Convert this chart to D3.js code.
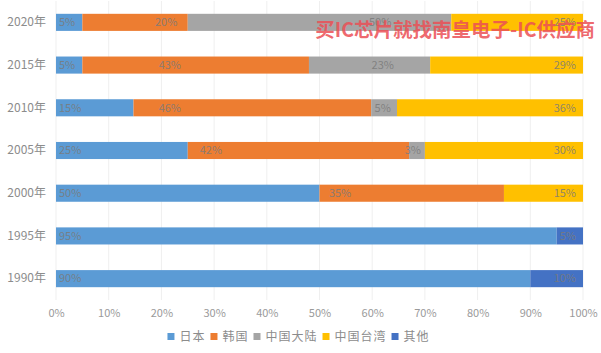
<!DOCTYPE html>
<html>
<head>
<meta charset="utf-8">
<script src="https://cdn.jsdelivr.net/npm/d3@7"></script>
<style>
  body { margin: 0; background: #fff; }
  text { font-family: "Noto Sans CJK SC", "Noto Sans", sans-serif; }
</style>
</head>
<body>
<div id="chart"></div>
<script>
// Data (percent share per year)
const years = ["2020年", "2015年", "2010年", "2005年", "2000年", "1995年", "1990年"];
const seriesNames = ["日本", "韩国", "中国大陆", "中国台湾", "其他"];
const japan  = [5, 5, 15, 25, 50, 95, 90];
const korea  = [20, 43, 46, 42, 35, 0, 0];
const china  = [50, 23, 5, 3, 0, 0, 0];
const taiwan = [25, 29, 36, 30, 15, 0, 0];
const other  = [0, 0, 0, 0, 0, 5, 10];
const xTicks = [0, 0.1, 0.2, 0.3, 0.4, 0.5, 0.6, 0.7, 0.8, 0.9, 1];
// where the Korea / mainland labels sit, in axis share (they are not centred in the original)
const koreaLabelAt = [0.209, 0.216, 0.216, 0.294, 0.539, 0, 0];
const chinaLabelAt = [0.615, 0.62, 0.62, 0.677, 0, 0, 0];

const colors = ["#5b9bd5", "#ed7d31", "#a5a5a5", "#ffc000", "#4472c4"];

const svgWidth = 601;
const svgHeight = 353;
const margin = { top: 1, right: 18, bottom: 53, left: 56 };
const chartWidth = svgWidth - margin.left - margin.right;
const chartHeight = svgHeight - margin.top - margin.bottom;

const svg = d3.select("#chart")
  .append("svg")
  .attr("width", svgWidth)
  .attr("height", svgHeight);

const g = svg.append("g")
  .attr("transform", `translate(${margin.left}, ${margin.top})`);

// build rows for the stack (100% stacked, so 2010's 102 gets normalised like Excel does)
const allSeries = [japan, korea, china, taiwan, other];
const rows = years.map((y, i) => {
  const r = { year: y };
  seriesNames.forEach((s, j) => { r[s] = allSeries[j][i]; });
  return r;
});
const stacked = d3.stack().keys(seriesNames).offset(d3.stackOffsetExpand)(rows);

const x = d3.scaleLinear().domain([0, 1]).range([0, chartWidth]);
const y = d3.scaleBand().domain(years).range([0, chartHeight]).paddingInner(0.6).paddingOuter(0.3);

// grid
g.append("g")
  .selectAll("line")
  .data(xTicks)
  .enter()
  .append("line")
  .attr("x1", d => x(d))
  .attr("x2", d => x(d))
  .attr("y1", 0)
  .attr("y2", chartHeight)
  .attr("stroke", "#efefef")
  .attr("stroke-width", 1);

// bars
const layers = g.selectAll("g.layer")
  .data(stacked)
  .enter()
  .append("g")
  .attr("class", "layer")
  .attr("fill", (d, i) => colors[i]);

layers.selectAll("rect")
  .data(d => d)
  .enter()
  .append("rect")
  .attr("x", d => x(d[0]))
  .attr("y", d => y(d.data.year))
  .attr("width", d => x(d[1]) - x(d[0]))
  .attr("height", y.bandwidth());

// data labels show the raw values
const labelData = [];
stacked.forEach((layer, j) => {
  layer.forEach((d, i) => {
    const v = allSeries[j][i];
    if (v <= 0) return;
    let lx, anchor;
    if (j === 0) { lx = x(d[0]) + 3; anchor = "start"; }
    else if (j === 1) { lx = x(koreaLabelAt[i]); anchor = "middle"; }
    else if (j === 2) { lx = x(chinaLabelAt[i]); anchor = "middle"; }
    else { lx = x(d[1]) - 7; anchor = "end"; }
    labelData.push({ x: lx, y: y(d.data.year) + y.bandwidth() / 2, anchor: anchor, text: v + "%" });
  });
});

g.selectAll("text.lbl")
  .data(labelData)
  .enter()
  .append("text")
  .attr("class", "lbl")
  .attr("x", d => d.x)
  .attr("y", d => d.y)
  .attr("dy", "0.35em")
  .attr("text-anchor", d => d.anchor)
  .style("font-size", "11px")
  .style("fill", "#7a7a7a")
  .style("fill-opacity", 0.85)
  .text(d => d.text);

// axes
const leftAxis = d3.axisLeft(y).tickSize(0).tickPadding(10);
const yAxisG = g.append("g").call(leftAxis);
yAxisG.select(".domain").remove();
yAxisG.selectAll("text")
  .style("font-size", "12px")
  .style("fill", "#8c8c8c");

const bottomAxis = d3.axisBottom(x).tickValues(xTicks).tickFormat(d3.format(".0%")).tickSize(0).tickPadding(9);
const xAxisG = g.append("g")
  .attr("transform", `translate(0, ${chartHeight})`)
  .call(bottomAxis);
xAxisG.select(".domain").remove();
xAxisG.selectAll("text")
  .style("font-size", "11px")
  .style("fill", "#9a9a9a");

// legend
const legend = svg.append("g");
let lxPos = 0;
seriesNames.forEach((s, i) => {
  const item = legend.append("g").attr("transform", `translate(${lxPos}, 0)`);
  item.append("rect")
    .attr("x", 0)
    .attr("y", -4)
    .attr("width", 7)
    .attr("height", 7)
    .attr("fill", colors[i]);
  const t = item.append("text")
    .attr("x", 12)
    .attr("y", 0)
    .attr("dy", "0.35em")
    .style("font-size", "12px")
    .style("letter-spacing", "1px")
    .style("fill", "#8c8c8c")
    .text(s);
  lxPos += 12 + t.node().getComputedTextLength() + 5;
});
const legendWidth = lxPos - 5;
legend.attr("transform", `translate(${(svgWidth - legendWidth) / 2 - 2}, 337)`);

// watermark
svg.append("text")
  .attr("x", 595)
  .attr("y", 30)
  .attr("dy", "0.35em")
  .attr("text-anchor", "end")
  .style("font-size", "19.5px")
  .style("font-weight", "bold")
  .style("fill", "#ec4f55")
  .style("fill-opacity", 0.85)
  .text("买IC芯片就找南皇电子-IC供应商");
</script>
</body>
</html>
